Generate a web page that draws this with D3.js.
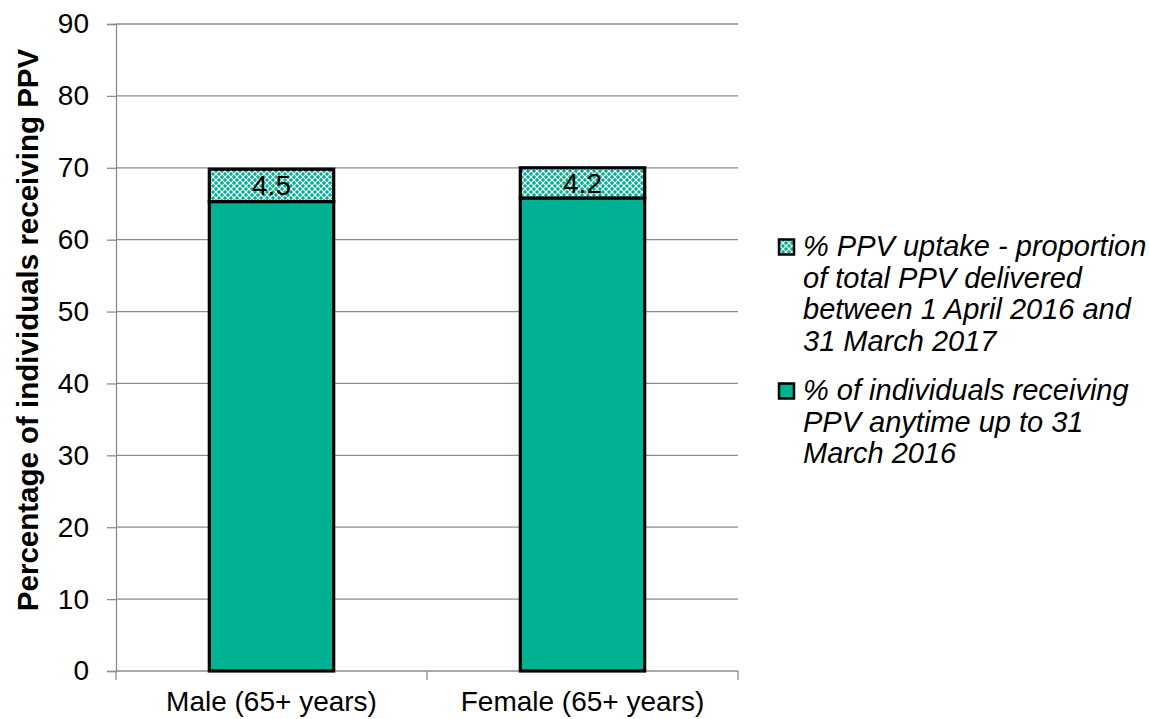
<!DOCTYPE html>
<html>
<head>
<meta charset="utf-8">
<script src="https://cdn.jsdelivr.net/npm/d3@7"></script>
<style>
  body { margin: 0; background: #fff; }
  text { font-family: "Liberation Sans", Arial, sans-serif; }
</style>
</head>
<body>
<script>
var categories = ["Male (65+ years)", "Female (65+ years)"];
var baseValues = [65.3, 65.8];
var uptakeValues = [4.5, 4.2];
var yTicks = [0, 10, 20, 30, 40, 50, 60, 70, 80, 90];
var legendLabels = [
  ["% PPV uptake - proportion", "of total PPV delivered", "between 1 April 2016 and", "31 March 2017"],
  ["% of individuals receiving", "PPV anytime up to 31", "March 2016"]
];

var width = 1150, height = 719;
var margin = { left: 116, right: 412, top: 24, bottom: 48 };
var teal = "#00b294";
var fontSize = 28;

var svg = d3.select("body").append("svg")
  .attr("width", width)
  .attr("height", height);

// hatch pattern for the top segment
var defs = svg.append("defs");
var pat = defs.append("pattern")
  .attr("id", "hatch")
  .attr("patternUnits", "userSpaceOnUse")
  .attr("width", 6)
  .attr("height", 6);
pat.append("rect").attr("width", 6).attr("height", 6).attr("fill", teal);
pat.append("path")
  .attr("d", "M0,0 L6,6 M6,0 L0,6")
  .attr("stroke", "#fff")
  .attr("stroke-width", 1.2);
pat.append("circle").attr("cx", 3).attr("cy", 3).attr("r", 1).attr("fill", "#fff");

var x = d3.scaleBand()
  .domain(categories)
  .range([margin.left, width - margin.right])
  .paddingInner(0.6)
  .paddingOuter(0.3);

var y = d3.scaleLinear()
  .domain([0, 90])
  .range([height - margin.bottom, margin.top]);

// gridlines
svg.append("g")
  .selectAll("line")
  .data(yTicks.slice(1))
  .enter()
  .append("line")
  .attr("x1", margin.left)
  .attr("x2", width - margin.right)
  .attr("y1", function(d) { return y(d); })
  .attr("y2", function(d) { return y(d); })
  .attr("stroke", "#8c8c8c")
  .attr("stroke-width", 1.3);

// y axis
var yAxis = svg.append("g")
  .attr("transform", "translate(" + margin.left + ",0)")
  .call(d3.axisLeft(y).tickValues(yTicks).tickSize(9).tickPadding(18));
yAxis.select(".domain").attr("stroke", "#8c8c8c").attr("stroke-width", 1.3);
yAxis.selectAll(".tick line").attr("stroke", "#8c8c8c").attr("stroke-width", 1.3);
yAxis.selectAll(".tick text")
  .attr("font-size", fontSize + "px")
  .attr("fill", "#000")
  .style("font-family", "Liberation Sans, Arial, sans-serif");

// x axis line and category dividers
var xg = svg.append("g");
xg.append("line")
  .attr("x1", margin.left)
  .attr("x2", width - margin.right)
  .attr("y1", y(0))
  .attr("y2", y(0))
  .attr("stroke", "#8c8c8c")
  .attr("stroke-width", 1.3);
var step = (width - margin.right - margin.left) / categories.length;
xg.selectAll("line.div")
  .data(d3.range(categories.length + 1))
  .enter()
  .append("line")
  .attr("class", "div")
  .attr("x1", function(i) { return margin.left + i * step; })
  .attr("x2", function(i) { return margin.left + i * step; })
  .attr("y1", y(0))
  .attr("y2", y(0) + 9)
  .attr("stroke", "#8c8c8c")
  .attr("stroke-width", 1.3);
xg.selectAll("text")
  .data(categories)
  .enter()
  .append("text")
  .attr("x", function(d) { return x(d) + x.bandwidth() / 2; })
  .attr("y", y(0) + 40)
  .attr("text-anchor", "middle")
  .attr("font-size", fontSize + "px")
  .text(function(d) { return d; });

// bars
var bars = svg.append("g");
bars.selectAll("rect.base")
  .data(categories)
  .enter()
  .append("rect")
  .attr("class", "base")
  .attr("x", function(d) { return x(d); })
  .attr("width", x.bandwidth())
  .attr("y", function(d, i) { return y(baseValues[i]); })
  .attr("height", function(d, i) { return y(0) - y(baseValues[i]); })
  .attr("fill", teal)
  .attr("stroke", "#000")
  .attr("stroke-width", 3.2);

bars.selectAll("rect.top")
  .data(categories)
  .enter()
  .append("rect")
  .attr("class", "top")
  .attr("x", function(d) { return x(d); })
  .attr("width", x.bandwidth())
  .attr("y", function(d, i) { return y(baseValues[i] + uptakeValues[i]); })
  .attr("height", function(d, i) { return y(baseValues[i]) - y(baseValues[i] + uptakeValues[i]); })
  .attr("fill", "url(#hatch)")
  .attr("stroke", "#000")
  .attr("stroke-width", 3.2);

bars.selectAll("text")
  .data(categories)
  .enter()
  .append("text")
  .attr("x", function(d) { return x(d) + x.bandwidth() / 2; })
  .attr("y", function(d, i) { return y(baseValues[i] + uptakeValues[i] / 2) + 10; })
  .attr("text-anchor", "middle")
  .attr("font-size", fontSize + "px")
  .text(function(d, i) { return uptakeValues[i].toFixed(1); });

// y title
svg.append("text")
  .attr("transform", "translate(38,330) rotate(-90)")
  .attr("text-anchor", "middle")
  .attr("font-size", "29.5px")
  .attr("font-weight", "bold")
  .text("Percentage of individuals receiving PPV");

// legend
var legendTops = [247, 391];
var fills = ["url(#hatch)", teal];
var lg = svg.append("g");
legendLabels.forEach(function(lines, k) {
  lg.append("rect")
    .attr("x", 779)
    .attr("y", legendTops[k] - 7.5)
    .attr("width", 15)
    .attr("height", 15)
    .attr("fill", fills[k])
    .attr("stroke", "#000")
    .attr("stroke-width", 2.5);
  var t = lg.append("text")
    .attr("x", 803)
    .attr("y", legendTops[k] + 9)
    .attr("font-size", "29px")
    .attr("font-style", "italic");
  t.selectAll("tspan")
    .data(lines)
    .enter()
    .append("tspan")
    .attr("x", 803)
    .attr("dy", function(d, i) { return i === 0 ? 0 : 31.5; })
    .text(function(d) { return d; });
});
</script>
</body>
</html>
